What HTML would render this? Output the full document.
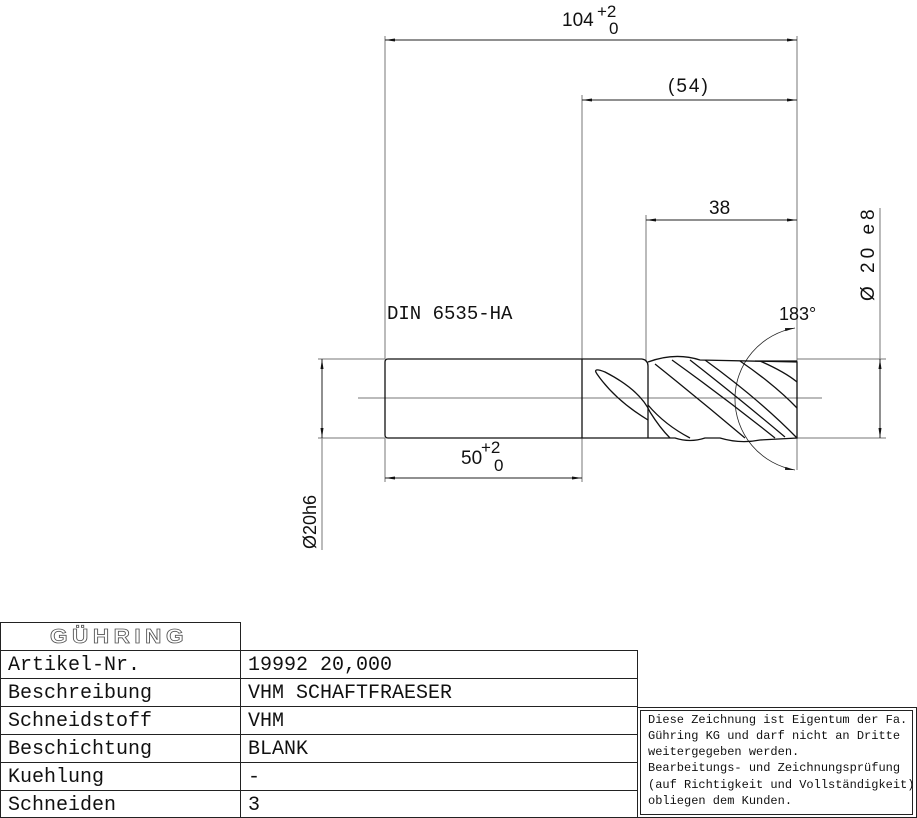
<!DOCTYPE html>
<html><head><meta charset="utf-8"><style>
html,body{margin:0;padding:0;background:#fff;}
svg{display:block;}
.t{font-family:"Liberation Sans",sans-serif;fill:#111;}
.m{font-family:"Liberation Mono",monospace;fill:#111;}
</style></head><body>
<svg width="917" height="818" viewBox="0 0 917 818" xmlns="http://www.w3.org/2000/svg">
<defs>
<marker id="a" viewBox="0 0 10 6" refX="10" refY="3" markerWidth="10" markerHeight="6" orient="auto-start-reverse" markerUnits="userSpaceOnUse"><path d="M0,1.5 L10,3 L0,4.5z" fill="#111"/></marker>
</defs>
<g stroke="#777" stroke-width="1" fill="none">
<line x1="385" y1="36" x2="385" y2="359"/>
<line x1="582" y1="95" x2="582" y2="359"/>
<line x1="646" y1="215" x2="646" y2="362"/>
<line x1="797" y1="36" x2="797" y2="470"/>
<line x1="797" y1="359" x2="886" y2="359"/>
<line x1="797" y1="438" x2="886" y2="438"/>
<line x1="880" y1="208" x2="880" y2="438"/>
<line x1="318" y1="359" x2="385" y2="359"/>
<line x1="318" y1="438" x2="385" y2="438"/>
<line x1="322" y1="438" x2="322" y2="550"/>
<line x1="385" y1="438" x2="385" y2="482"/>
<line x1="582" y1="438" x2="582" y2="482"/>
<line x1="358" y1="398" x2="822" y2="398"/>
</g>
<g stroke="#222" stroke-width="1" fill="none">
<line x1="385" y1="40" x2="797" y2="40" marker-start="url(#a)" marker-end="url(#a)"/>
<line x1="582" y1="100" x2="797" y2="100" marker-start="url(#a)" marker-end="url(#a)"/>
<line x1="646" y1="220" x2="797" y2="220" marker-start="url(#a)" marker-end="url(#a)"/>
<line x1="880" y1="359" x2="880" y2="438" marker-start="url(#a)" marker-end="url(#a)"/>
<line x1="322" y1="359" x2="322" y2="438" marker-start="url(#a)" marker-end="url(#a)"/>
<line x1="385" y1="478" x2="582" y2="478" marker-start="url(#a)" marker-end="url(#a)"/>
<path d="M795,328 A72,72 0 0 0 795,470" stroke-width="0.8" marker-start="url(#a)" marker-end="url(#a)"/>
</g>
<g stroke="#111" stroke-width="1.3" fill="none">
<path d="M388,359 L642,359 M388,438 L648,438 M388,359 Q385,359 385,362 L385,435 Q385,438 388,438"/>
<line x1="582" y1="359" x2="582" y2="438"/>
<path d="M642,359 Q648,360 648,366 L648,438"/>
<path d="M648,362 Q675,352 700,360 L797,362 L797,438 L760,440 Q740,444 720,438 L705,438 Q690,443 675,438 L648,438"/>
<path d="M597,374 Q592,367 605,372 Q640,390 650,412 Q660,428 670,438 M597,374 Q615,400 648,420"/>
<path d="M655,364 Q700,400 745,438 M672,360 Q725,398 775,438 M690,360 Q735,395 785,437 M705,360 Q760,400 797,438 M740,361 Q775,385 797,408 M760,361 Q785,372 797,382 M648,405 Q665,425 690,438 M755,361 L797,361"/>
</g>
<text class="t" x="562" y="26" font-size="19">104</text>
<text class="t" x="597" y="17" font-size="17">+2</text>
<text class="t" x="609" y="34" font-size="17">0</text>
<text class="t" x="668" y="92" font-size="19" letter-spacing="2">(54)</text>
<text class="t" x="709" y="214" font-size="19">38</text>
<text class="t" x="461" y="464" font-size="19">50</text>
<text class="t" x="481" y="453" font-size="17">+2</text>
<text class="t" x="494" y="471" font-size="17">0</text>
<text class="t" x="779" y="320" font-size="18">183°</text>
<text class="m" x="387" y="319" font-size="19">DIN 6535-HA</text>
<text class="t" font-size="19" letter-spacing="4" transform="translate(874,301) rotate(-90)">Ø 20 e8</text>
<text class="t" font-size="18" transform="translate(316,549) rotate(-90)">Ø20h6</text>
<g stroke="#222" stroke-width="1" fill="none">
<rect x="0.5" y="622.5" width="240" height="195"/>
<line x1="240.5" y1="622" x2="240.5" y2="818"/>
<rect x="0.5" y="650.5" width="637" height="167"/>
<line x1="0" y1="678.5" x2="637" y2="678.5"/>
<line x1="0" y1="706.5" x2="637" y2="706.5"/>
<line x1="0" y1="734.5" x2="637" y2="734.5"/>
<line x1="0" y1="762.5" x2="637" y2="762.5"/>
<line x1="0" y1="790.5" x2="637" y2="790.5"/>
<rect x="637.5" y="707.5" width="279" height="110"/>
<rect x="640.5" y="710.5" width="272" height="104"/>
</g>
<text x="119" y="643" text-anchor="middle" font-family="Liberation Sans,sans-serif" font-size="20" font-weight="bold" fill="#fff" stroke="#555" stroke-width="0.8" letter-spacing="4" textLength="138" lengthAdjust="spacingAndGlyphs">GÜHRING</text>
<g class="m" font-size="20">
<text x="8" y="670">Artikel-Nr.</text><text x="248" y="670">19992 20,000</text>
<text x="8" y="698">Beschreibung</text><text x="248" y="698">VHM SCHAFTFRAESER</text>
<text x="8" y="726">Schneidstoff</text><text x="248" y="726">VHM</text>
<text x="8" y="754">Beschichtung</text><text x="248" y="754">BLANK</text>
<text x="8" y="782">Kuehlung</text><text x="248" y="782">-</text>
<text x="8" y="810">Schneiden</text><text x="248" y="810">3</text>
</g>
<g class="m" font-size="12">
<text x="648" y="723">Diese Zeichnung ist Eigentum der Fa.</text>
<text x="648" y="739">Gühring KG und darf nicht an Dritte</text>
<text x="648" y="755">weitergegeben werden.</text>
<text x="648" y="771">Bearbeitungs- und Zeichnungsprüfung</text>
<text x="648" y="788">(auf Richtigkeit und Vollständigkeit)</text>
<text x="648" y="804">obliegen dem Kunden.</text>
</g>
</svg>
</body></html>
